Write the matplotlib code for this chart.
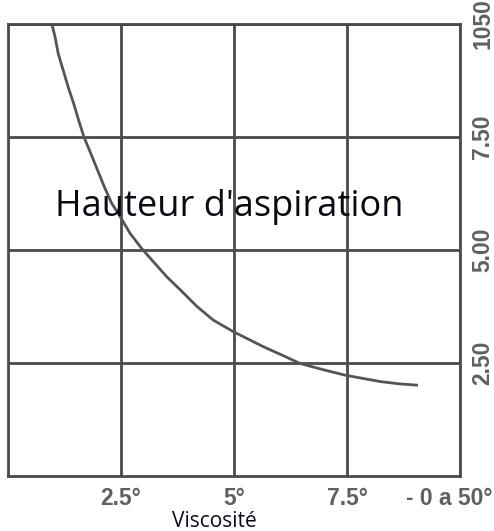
import matplotlib
matplotlib.use("Agg")
import matplotlib.pyplot as plt
from matplotlib.transforms import ScaledTranslation

# courbe (viscosité vs hauteur d'aspiration)
visc = [0.97, 1.04, 1.11, 1.22, 1.33, 1.45, 1.56, 1.68, 1.83, 1.98, 2.13, 2.29,
        2.48, 2.70, 2.96, 3.51, 3.81, 4.18, 4.54, 4.99, 5.65, 6.05, 6.46, 6.98,
        7.46, 8.23, 8.64, 9.04]
hauteur = [10.0, 9.72, 9.35, 8.98, 8.61, 8.25, 7.88, 7.50, 7.14, 6.77, 6.40, 6.04,
           5.74, 5.37, 5.03, 4.41, 4.12, 3.75, 3.45, 3.19, 2.86, 2.68, 2.49, 2.35,
           2.23, 2.09, 2.04, 2.01]

x_ticks = [2.5, 5, 7.5, 10]
x_labels = ["2.5°", "5°", "7.5°", "- 0 a 50°"]
y_ticks = [2.5, 5, 7.5, 10]
y_labels = ["2.50", "5.00", "7.50", "1050"]

grid_col = "#4a4a4a"
tick_col = "#606060"
tick_font = ["Liberation Sans", "DejaVu Sans"]
text_font = ["Open Sans", "DejaVu Sans"]

fig = plt.figure(figsize=(4.94, 5.31), dpi=100)
ax = fig.add_axes([0.0162, 0.1036, 0.915, 0.8512])

ax.plot(visc, hauteur, color="#555555", lw=2, solid_joinstyle="round")

ax.set_xlim(0, 10)
ax.set_ylim(0, 10)
ax.set_xticks(x_ticks)
ax.set_xticklabels(x_labels, family=tick_font, fontsize=16.5, fontweight="bold", color=tick_col)
ax.set_yticks(y_ticks)
ax.yaxis.tick_right()
ax.set_yticklabels(y_labels, family=tick_font, fontsize=16.5, fontweight="bold",
                   color=tick_col, rotation=90, va="center")
ax.tick_params(axis="both", length=0)
ax.tick_params(axis="x", pad=8)
ax.tick_params(axis="y", pad=8)

# le dernier libellé déborde à droite, on le décale un peu
last = ax.get_xticklabels()[-1]
last.set_transform(last.get_transform() + ScaledTranslation(-0.11, 0, fig.dpi_scale_trans))

ax.grid(True, color=grid_col, lw=2)
for s in ax.spines.values():
    s.set_color(grid_col)
    s.set_linewidth(2)

ax.text(4.9, 5.95, "Hauteur d'aspiration", ha="center", va="center",
        fontsize=26, family=text_font, color="#0a0a14")
ax.set_xlabel("Viscosité", fontsize=15, family=text_font, color="#0a0a20")
ax.xaxis.set_label_coords(0.456, -0.078)

fig.savefig("out.png", dpi=100)
